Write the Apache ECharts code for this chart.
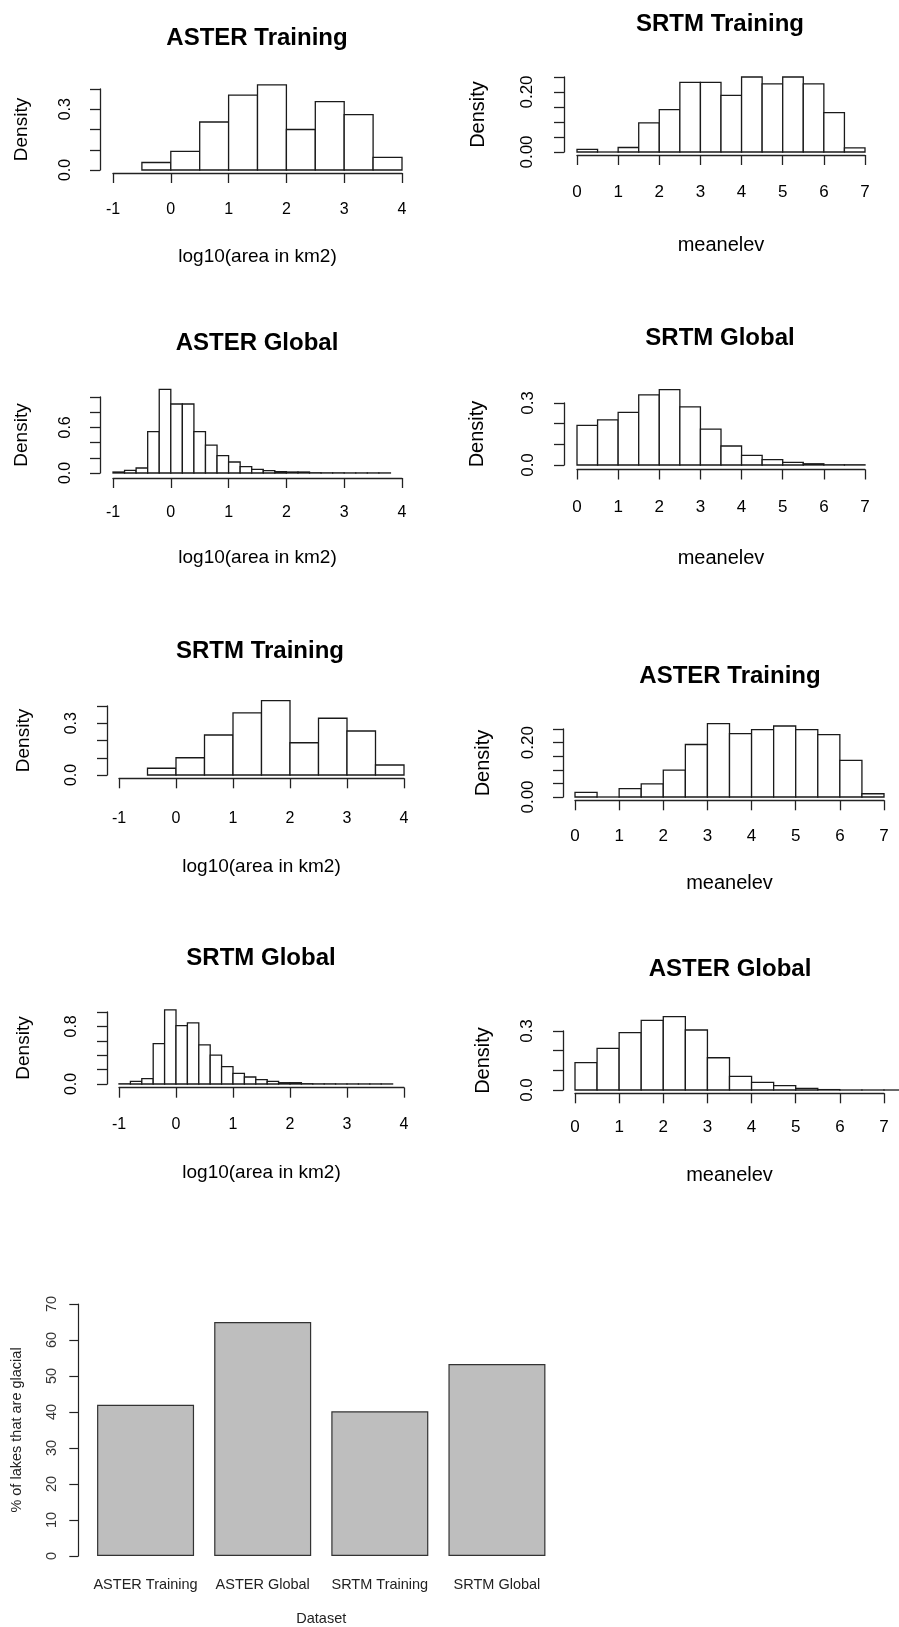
<!DOCTYPE html>
<html>
<head>
<meta charset="utf-8">
<script src="https://cdn.jsdelivr.net/npm/echarts@6/dist/echarts.min.js"></script>
<style>
html,body{margin:0;padding:0;background:#fff;}
#c{width:899px;height:1627px;}
</style>
</head>
<body>
<div id="c"></div>
<script>
// ---------------- DATA ----------------
const areaBreaksCoarse = [-0.5, 0, 0.5, 1, 1.5, 2, 2.5, 3, 3.5, 4];
const areaBreaksFine = [-1, -0.8, -0.6, -0.4, -0.2, 0, 0.2, 0.4, 0.6, 0.8, 1, 1.2, 1.4, 1.6, 1.8, 2, 2.2, 2.4, 2.6, 2.8, 3, 3.2, 3.4, 3.6, 3.8];
const elevBreaks = [0, 0.5, 1, 1.5, 2, 2.5, 3, 3.5, 4, 4.5, 5, 5.5, 6, 6.5, 7];
const elevBreaksWide = [0, 0.5, 1, 1.5, 2, 2.5, 3, 3.5, 4, 4.5, 5, 5.5, 6, 6.5, 7, 7.5];

const asterTrainingAreaDensity = [0.037, 0.092, 0.237, 0.370, 0.420, 0.200, 0.338, 0.273, 0.062];
const asterGlobalAreaDensity = [0.013, 0.035, 0.066, 0.544, 1.100, 0.908, 0.908, 0.544, 0.368, 0.228, 0.145, 0.083, 0.048, 0.031, 0.018, 0.013, 0.013, 0.003, 0.002, 0.002, 0.001, 0.001, 0.001, 0.001];
const srtmTrainingAreaDensity = [0.039, 0.100, 0.232, 0.360, 0.431, 0.187, 0.329, 0.255, 0.058];
const srtmGlobalAreaDensity = [0.003, 0.037, 0.074, 0.562, 1.030, 0.810, 0.848, 0.544, 0.400, 0.240, 0.147, 0.097, 0.060, 0.037, 0.018, 0.018, 0.004, 0.002, 0.002, 0.001, 0.001, 0.001, 0.001, 0.001];

const srtmTrainingElevDensity = [0.009, 0.000, 0.015, 0.097, 0.141, 0.232, 0.232, 0.189, 0.250, 0.227, 0.250, 0.227, 0.131, 0.014];
const srtmGlobalElevDensity = [0.192, 0.218, 0.255, 0.339, 0.365, 0.281, 0.174, 0.092, 0.047, 0.026, 0.013, 0.006, 0.001, 0.001];
const asterTrainingElevDensity = [0.017, 0.000, 0.031, 0.048, 0.099, 0.193, 0.270, 0.233, 0.248, 0.261, 0.248, 0.229, 0.135, 0.012];
const asterGlobalElevDensity = [0.139, 0.212, 0.292, 0.354, 0.373, 0.305, 0.164, 0.069, 0.039, 0.022, 0.008, 0.002, 0.000, 0.000, 0.000];

const areaTickLabels = ['-1', '0', '1', '2', '3', '4'];
const elevTickLabels = ['0', '1', '2', '3', '4', '5', '6', '7'];
const yLabelsTrainArea = ['0.0', '0.3'];
const yLabelsGlobalAreaAster = ['0.0', '0.6'];
const yLabelsGlobalAreaSrtm = ['0.0', '0.8'];
const yLabelsTrainElev = ['0.00', '0.20'];
const yLabelsGlobalElev = ['0.0', '0.3'];

const datasets = ['ASTER Training', 'ASTER Global', 'SRTM Training', 'SRTM Global'];
const glacialPercent = [42.0, 65.0, 40.2, 53.3];

// ---------------- PANELS ----------------
const FONT = '"Liberation Sans", Arial, sans-serif';
const panels = [
  {title:'ASTER Training', breaks:areaBreaksCoarse, dens:asterTrainingAreaDensity, xMin:-1, xMax:4, xTicks:areaTickLabels, yMax:0.4, yInt:0.1, yDec:1, yLabels:yLabelsTrainArea, xName:'log10(area in km2)',
   g:{left:113, top:89, width:289, height:81}, xOff:3, yOff:13, tx:257, ty:37, fs:16, ns:19, ts:24, yMargin:26, yGap:69, xMargin:29, xGap:74},
  {title:'SRTM Training', breaks:elevBreaks, dens:srtmTrainingElevDensity, xMin:0, xMax:7, xTicks:elevTickLabels, yMax:0.25, yInt:0.05, yDec:2, yLabels:yLabelsTrainElev, xName:'meanelev',
   g:{left:577, top:77, width:288, height:75}, xOff:3, yOff:13, tx:720, ty:23, fs:17, ns:20, ts:24, yMargin:28, yGap:76, xMargin:29, xGap:80},
  {title:'ASTER Global', breaks:areaBreaksFine, dens:asterGlobalAreaDensity, xMin:-1, xMax:4, xTicks:areaTickLabels, yMax:1.0, yInt:0.2, yDec:1, yLabels:yLabelsGlobalAreaAster, xName:'log10(area in km2)',
   g:{left:113, top:397, width:289, height:76}, xOff:5, yOff:13, tx:257, ty:342, fs:16, ns:19, ts:24, yMargin:26, yGap:69, xMargin:27, xGap:70},
  {title:'SRTM Global', breaks:elevBreaks, dens:srtmGlobalElevDensity, xMin:0, xMax:7, xTicks:elevTickLabels, yMax:0.3, yInt:0.1, yDec:1, yLabels:yLabelsGlobalElev, xName:'meanelev',
   g:{left:577, top:403, width:288, height:62}, xOff:4.5, yOff:13, tx:720, ty:337, fs:17, ns:20, ts:24, yMargin:27, yGap:77, xMargin:29, xGap:79},
  {title:'SRTM Training', breaks:areaBreaksCoarse, dens:srtmTrainingAreaDensity, xMin:-1, xMax:4, xTicks:areaTickLabels, yMax:0.4, yInt:0.1, yDec:1, yLabels:yLabelsTrainArea, xName:'log10(area in km2)',
   g:{left:119, top:706, width:285, height:69}, xOff:3.3, yOff:12, tx:260, ty:650, fs:16, ns:19, ts:24, yMargin:27, yGap:74, xMargin:32, xGap:79},
  {title:'ASTER Training', breaks:elevBreaks, dens:asterTrainingElevDensity, xMin:0, xMax:7, xTicks:elevTickLabels, yMax:0.25, yInt:0.05, yDec:2, yLabels:yLabelsTrainElev, xName:'meanelev',
   g:{left:575, top:729, width:309, height:68}, xOff:3.3, yOff:12, tx:730, ty:675, fs:17, ns:20, ts:24, yMargin:26, yGap:70, xMargin:28, xGap:73},
  {title:'SRTM Global', breaks:areaBreaksFine, dens:srtmGlobalAreaDensity, xMin:-1, xMax:4, xTicks:areaTickLabels, yMax:1.0, yInt:0.2, yDec:1, yLabels:yLabelsGlobalAreaSrtm, xName:'log10(area in km2)',
   g:{left:119, top:1012, width:285, height:72}, xOff:3.7, yOff:12, tx:261, ty:957, fs:16, ns:19, ts:24, yMargin:27, yGap:74, xMargin:29, xGap:76},
  {title:'ASTER Global', breaks:elevBreaksWide, dens:asterGlobalElevDensity, xMin:0, xMax:7, xTicks:elevTickLabels, yMax:0.3, yInt:0.1, yDec:1, yLabels:yLabelsGlobalElev, xName:'meanelev',
   g:{left:575, top:1031, width:309, height:59}, xOff:3.3, yOff:12, tx:730, ty:968, fs:17, ns:20, ts:24, yMargin:27, yGap:70, xMargin:26, xGap:72}
];

const LINE = {color:'#222', width:1.3};

function histRender(params, api) {
  const a = api.coord([api.value(0), 0]);
  const b = api.coord([api.value(1), api.value(2)]);
  return {
    type: 'rect',
    shape: {x: a[0], y: b[1], width: b[0] - a[0], height: Math.max(a[1] - b[1], 0.01)},
    style: {fill: '#fff', stroke: '#1a1a1a', lineWidth: 1.3}
  };
}

const grids = [], xAxes = [], yAxes = [], series = [], titles = [];
panels.forEach((p, i) => {
  grids.push(Object.assign({containLabel:false}, p.g));
  titles.push({text:p.title, left:p.tx, top:p.ty - 11, textAlign:'center', padding:0,
    textStyle:{fontSize:p.ts, fontWeight:'bold', fontFamily:FONT, color:'#000'}});
  xAxes.push({
    gridIndex:i, type:'value', min:p.xMin, max:p.xMax, interval:1, position:'bottom', offset:p.xOff,
    axisLine:{show:true, onZero:false, lineStyle:LINE},
    axisTick:{show:true, length:10, lineStyle:LINE},
    axisLabel:{margin:p.xMargin, fontSize:p.fs, color:'#000', fontFamily:FONT,
      formatter:(v)=>{ const s = String(Math.round(v)); return p.xTicks.includes(s) ? s : ''; }},
    splitLine:{show:false},
    name:p.xName, nameLocation:'middle', nameGap:p.xGap,
    nameTextStyle:{fontSize:p.ns, color:'#000', fontFamily:FONT}
  });
  yAxes.push({
    gridIndex:i, type:'value', min:0, max:p.yMax, interval:p.yInt, position:'left', offset:p.yOff,
    axisLine:{show:true, onZero:false, lineStyle:LINE},
    axisTick:{show:true, length:10, lineStyle:LINE},
    axisLabel:{rotate:90, margin:p.yMargin, fontSize:p.fs, color:'#000', fontFamily:FONT,
      formatter:(v)=>{ const s = Number(v).toFixed(p.yDec); return p.yLabels.includes(s) ? s : ''; }},
    splitLine:{show:false},
    name:'Density', nameLocation:'middle', nameGap:p.yGap,
    nameTextStyle:{fontSize:p.ns, color:'#000', fontFamily:FONT}
  });
  series.push({
    type:'custom', xAxisIndex:i, yAxisIndex:i, clip:false, silent:true,
    renderItem:histRender,
    encode:{x:[0,1], y:2},
    data:p.dens.map((d, j) => [p.breaks[j], p.breaks[j + 1], d])
  });
});

// bar chart
const bi = panels.length;
grids.push({left:87, top:1304, width:468.5, height:252, containLabel:false});
xAxes.push({
  gridIndex:bi, type:'category', data:datasets,
  axisLine:{show:false}, axisTick:{show:false},
  axisLabel:{margin:21, fontSize:14.5, color:'#222', fontFamily:FONT, interval:0},
  name:'Dataset', nameLocation:'middle', nameGap:55,
  nameTextStyle:{fontSize:14.5, color:'#222', fontFamily:FONT}
});
yAxes.push({
  gridIndex:bi, type:'value', min:0, max:70, interval:10, offset:8.7,
  axisLine:{show:true, lineStyle:{color:'#222', width:1.2}},
  axisTick:{show:true, length:9, lineStyle:{color:'#222', width:1.2}},
  axisLabel:{rotate:90, margin:19, fontSize:14.5, color:'#333', fontFamily:FONT},
  splitLine:{show:false},
  name:'% of lakes that are glacial', nameLocation:'middle', nameGap:54,
  nameTextStyle:{fontSize:14.5, color:'#222', fontFamily:FONT}
});
series.push({
  type:'bar', xAxisIndex:bi, yAxisIndex:bi, data:glacialPercent, barWidth:97,
  itemStyle:{color:'#bebebe', borderColor:'#333', borderWidth:1.2},
  silent:true
});

const chart = echarts.init(document.getElementById('c'), null, {renderer:'canvas'});
chart.setOption({
  animation:false,
  backgroundColor:'#fff',
  title:titles,
  grid:grids,
  xAxis:xAxes,
  yAxis:yAxes,
  series:series
});
</script>
</body>
</html>
